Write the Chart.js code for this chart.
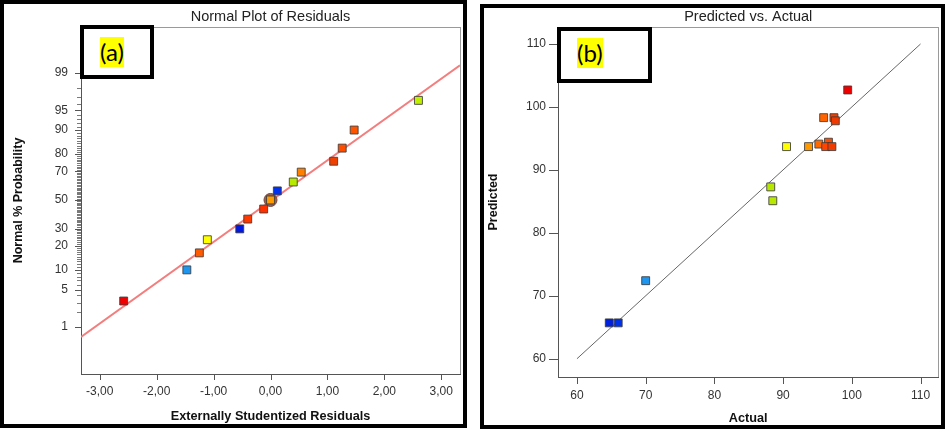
<!DOCTYPE html>
<html><head><meta charset="utf-8">
<script src="https://cdn.jsdelivr.net/npm/chart.js@4.4.0/dist/chart.umd.min.js"></script>
<style>
html,body{margin:0;padding:0;background:#fff;width:945px;height:429px;overflow:hidden;position:relative;}
canvas{position:absolute;top:0;}
.frame{position:absolute;border:4px solid #000;box-sizing:border-box;}
.lbox{position:absolute;border:4px solid #000;box-sizing:border-box;background:#fff;}
.lbl{position:absolute;background:#ff0;font-family:Lato,"Open Sans",sans-serif;font-size:24px;line-height:30px;color:#000;}
</style></head><body>
<canvas id="ca" width="470" height="429" style="left:0px"></canvas>
<canvas id="cb" width="470" height="429" style="left:475px"></canvas>
<div class="frame" style="left:0;top:0;width:467px;height:428px"></div>
<div class="frame" style="left:480px;top:4px;width:465px;height:425px"></div>
<div class="lbox" style="left:80px;top:25px;width:74px;height:54px"></div>
<div class="lbox" style="left:557px;top:27px;width:95px;height:56px"></div>
<span class="lbl" style="left:100px;top:37px">(a)</span>
<span class="lbl" style="left:577px;top:38px">(b)</span>
<script>
// ---- Data: (a) Normal plot of residuals ----
const residuals = [-2.58, -1.47, -1.25, -1.11, -0.54, -0.40, -0.12, 0.00, 0.12, 0.40, 0.54, 1.11, 1.26, 1.47, 2.60];
const normalProb = [3.2, 10.0, 16.6, 23.3, 29.8, 36.3, 43.4, 50.0, 56.6, 62.9, 69.5, 76.1, 82.9, 90.0, 96.6];
const residualColors = ['#f00000','#1e96f0','#ff5a00','#ffff00','#0018e0','#ff3800','#ff3000','#ff9a00','#0030f0','#b8ea00','#ff8000','#f04000','#ff4d00','#ff5500','#c0f000'];
const fitLineX = [-3.33, 3.33];
const fitLineProb = [0.6, 99.32];
const highlightX = [0.00];
const highlightProb = [50.0];
const probTicks = [1, 5, 10, 20, 30, 50, 70, 80, 90, 95, 99];
const minorProbTicks = [2,3,4,6,7,8,9,11,12,13,14,15,16,17,18,19,21,22,23,24,25,26,27,28,29,31,32,33,34,35,36,37,38,39,40,41,42,43,44,45,46,47,48,49,51,52,53,54,55,56,57,58,59,60,61,62,63,64,65,66,67,68,69,71,72,73,74,75,76,77,78,79,81,82,83,84,85,86,87,88,89,91,92,93,94,96,97,98];
const residTicks = [-3, -2, -1, 0, 1, 2, 3];

// ---- Data: (b) Predicted vs Actual ----
const actual = [99.4, 95.9, 97.4, 97.6, 90.5, 93.7, 95.2, 96.6, 96.2, 97.1, 88.2, 88.5, 70.0, 64.7, 66.0];
const predicted = [102.7, 98.3, 98.3, 97.8, 93.7, 93.7, 94.1, 94.4, 93.7, 93.7, 87.3, 85.1, 72.4, 65.7, 65.7];
const pointColors = ['#ee0000','#ff6400','#f04000','#ee3a00','#ffff00','#ff9900','#ff6a00','#ff4d00','#ff4400','#f03c00','#b8e800','#b8e800','#1e96f0','#0020e0','#0030e8'];
const diagX = [60, 110];
const diagY = [60, 110];
const valueTicks = [60, 70, 80, 90, 100, 110];

function probit(p){
 const a=[-3.969683028665376e+01,2.209460984245205e+02,-2.759285104469687e+02,1.383577518672690e+02,-3.066479806614716e+01,2.506628277459239e+00];
 const b=[-5.447609879822406e+01,1.615858368580409e+02,-1.556989798598866e+02,6.680131188771972e+01,-1.328068155288572e+01];
 const c=[-7.784894002430293e-03,-3.223964580411365e-01,-2.400758277161838e+00,-2.549732539343734e+00,4.374664141464968e+00,2.938163982698783e+00];
 const d=[7.784695709041462e-03,3.224671290700398e-01,2.445134137142996e+00,3.754408661907416e+00];
 const pl=0.02425, ph=1-pl; let q,r;
 if(p<pl){q=Math.sqrt(-2*Math.log(p));return (((((c[0]*q+c[1])*q+c[2])*q+c[3])*q+c[4])*q+c[5])/((((d[0]*q+d[1])*q+d[2])*q+d[3])*q+1);}
 if(p>ph){q=Math.sqrt(-2*Math.log(1-p));return -(((((c[0]*q+c[1])*q+c[2])*q+c[3])*q+c[4])*q+c[5])/((((d[0]*q+d[1])*q+d[2])*q+d[3])*q+1);}
 q=p-0.5;r=q*q;return (((((a[0]*r+a[1])*r+a[2])*r+a[3])*r+a[4])*r+a[5])*q/(((((b[0]*r+b[1])*r+b[2])*r+b[3])*r+b[4])*r+1);
}
const FONT = '"Liberation Sans", Arial, sans-serif';

// Draws plot frame plus all axis tick marks (major + probability minor ticks) from the chart's scales
const axisMarks = {
  id: 'axisMarks',
  beforeDraw(chart){
    const {ctx, chartArea:ca} = chart;
    ctx.save();
    ctx.strokeStyle = '#9a9a9a'; ctx.lineWidth = 1;
    ctx.strokeRect(Math.round(ca.left)+0.5, Math.round(ca.top)+0.5, Math.round(ca.right-ca.left), Math.round(ca.bottom-ca.top));
    ctx.restore();
  },
  afterDraw(chart, args, opts){
    const ctx = chart.ctx, ca = chart.chartArea;
    const xs = chart.scales.x, ys = chart.scales.y;
    const L = Math.round(ca.left), B = Math.round(ca.bottom);
    ctx.save();
    ctx.lineWidth = 1;
    if (opts.minor) {
      ctx.strokeStyle = '#7a7a7a';
      ctx.beginPath();
      minorProbTicks.forEach(p => { const py = Math.round(ys.getPixelForValue(probit(p/100))) + 0.5; ctx.moveTo(L - 4, py); ctx.lineTo(L, py); });
      ctx.stroke();
    }
    ctx.strokeStyle = '#555';
    ctx.beginPath();
    xs.ticks.forEach(t => { const px = Math.round(xs.getPixelForValue(t.value)) + 0.5; ctx.moveTo(px, B); ctx.lineTo(px, B + (opts.xLen||6)); });
    ys.ticks.forEach(t => { const py = Math.round(ys.getPixelForValue(t.value)) + 0.5; ctx.moveTo(L - (opts.yLen||6), py); ctx.lineTo(L, py); });
    ctx.stroke();
    ctx.restore();
  }
};

function axisCommon(){
  return {
    border:{display:true,color:'#555',width:1},
    grid:{display:false,drawTicks:false},
    ticks:{color:'#333',font:{family:FONT,size:12}}
  };
}

// Chart (a)
const ax = axisCommon(), ay = axisCommon();
new Chart(document.getElementById('ca'), {
  type:'scatter',
  data:{datasets:[
    {data: fitLineX.map((x,i)=>({x, y: probit(fitLineProb[i]/100)})), showLine:true, borderColor:'#f47d7d', borderWidth:2, pointRadius:0, order:3},
    {data: highlightX.map((x,i)=>({x, y: probit(highlightProb[i]/100)})), pointStyle:'circle', pointRadius:6.5, backgroundColor:'rgba(128,70,60,0.85)', borderColor:'#7a4438', borderWidth:1, order:2},
    {data: residuals.map((x,i)=>({x, y: probit(normalProb[i]/100)})), pointStyle:'rect', pointRadius:5.6, backgroundColor:residualColors, borderColor:'rgba(60,60,60,0.85)', borderWidth:1, order:1}
  ]},
  options:{
    responsive:false, animation:false,
    layout:{padding:{left:0,right:10,top:0,bottom:0}},
    plugins:{legend:{display:false},tooltip:{enabled:false},
      axisMarks:{xLen:6,yLen:6,minor:true},
      title:{display:true,text:'Normal Plot of Residuals',fullSize:false,color:'#222',font:{family:FONT,size:14.5,weight:'normal'},padding:{top:8,bottom:1.6}}},
    scales:{
      x:{type:'linear',min:-3.33,max:3.33,
        border:ax.border, grid:ax.grid,
        ticks:Object.assign({},ax.ticks,{padding:10,callback:v=>v.toFixed(2).replace('.',',')}),
        afterBuildTicks:s=>{s.ticks=residTicks.map(v=>({value:v}));},
        afterFit:s=>{s.height=55;},
        title:{display:true,text:'Externally Studentized Residuals',color:'#111',font:{family:FONT,size:12.7,weight:'bold'},padding:{top:0,bottom:4.5}}},
      y:{type:'linear',min:-3.19,max:3.17,
        border:ay.border, grid:ay.grid,
        ticks:Object.assign({},ay.ticks,{padding:13,callback:(v,i)=>String(probTicks[i])}),
        afterBuildTicks:s=>{s.ticks=probTicks.map(p=>({value:probit(p/100)}));},
        afterFit:s=>{s.width=81;},
        title:{display:true,text:'Normal % Probability',color:'#111',font:{family:FONT,size:12.5,weight:'bold'},padding:{top:10.8,bottom:0}}}
    }
  },
  plugins:[axisMarks]
});

// Chart (b)
const bx = axisCommon(), by = axisCommon();
new Chart(document.getElementById('cb'), {
  type:'scatter',
  data:{datasets:[
    {data: diagX.map((x,i)=>({x, y: diagY[i]})), showLine:true, borderColor:'#666', borderWidth:1, pointRadius:0, order:2},
    {data: actual.map((x,i)=>({x, y: predicted[i]})), pointStyle:'rect', pointRadius:5.6, backgroundColor:pointColors, borderColor:'rgba(60,60,60,0.85)', borderWidth:1, order:1}
  ]},
  options:{
    responsive:false, animation:false,
    layout:{padding:{left:0,right:6,top:0,bottom:0}},
    plugins:{legend:{display:false},tooltip:{enabled:false},
      axisMarks:{xLen:7,yLen:9,minor:false},
      title:{display:true,text:'Predicted vs. Actual',fullSize:false,color:'#222',font:{family:FONT,size:14.5,weight:'normal'},padding:{top:8,bottom:1.6}}},
    scales:{
      x:{type:'linear',min:57.24,max:112.6,
        border:bx.border, grid:bx.grid,
        ticks:Object.assign({},bx.ticks,{padding:11.5}),
        afterBuildTicks:s=>{s.ticks=valueTicks.map(v=>({value:v}));},
        afterFit:s=>{s.height=52;},
        title:{display:true,text:'Actual',color:'#111',font:{family:FONT,size:12.7,weight:'bold'},padding:{top:0,bottom:3}}},
      y:{type:'linear',min:57.1,max:112.7,
        border:by.border, grid:by.grid,
        ticks:Object.assign({},by.ticks,{padding:12}),
        afterBuildTicks:s=>{s.ticks=valueTicks.map(v=>({value:v}));},
        afterFit:s=>{s.width=83;},
        title:{display:true,text:'Predicted',color:'#111',font:{family:FONT,size:12.5,weight:'bold'},padding:{top:10.8,bottom:0}}}
    }
  },
  plugins:[axisMarks]
});
</script>
</body></html>
